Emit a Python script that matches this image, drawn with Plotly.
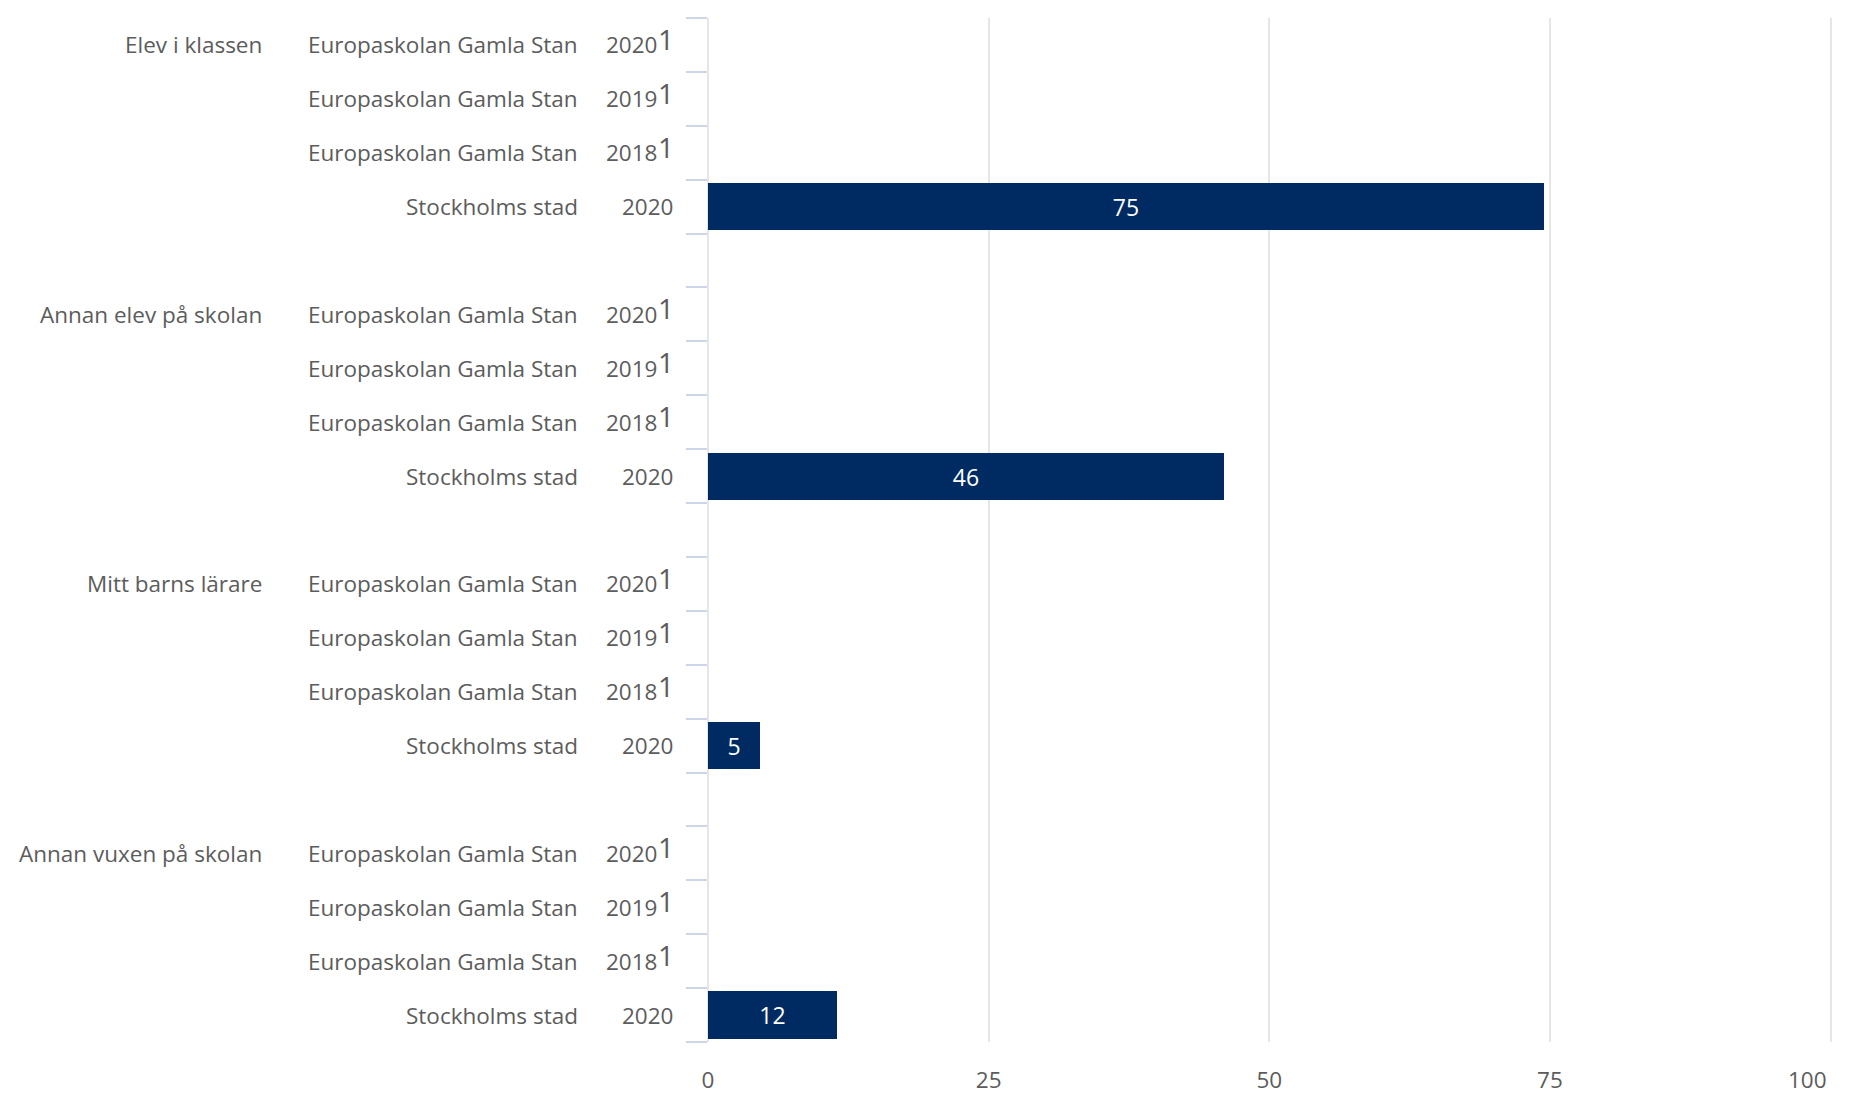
import plotly.graph_objects as go

groups = ["Elev i klassen", "Annan elev på skolan", "Mitt barns lärare", "Annan vuxen på skolan"]
units = ["Europaskolan Gamla Stan", "Europaskolan Gamla Stan", "Europaskolan Gamla Stan", "Stockholms stad"]
years = ["2020", "2019", "2018", "2020"]
footnote = ["1", "1", "1", ""]
# Europaskolan rows have no reported values (footnote 1); Stockholms stad values:
stockholm_values = [74.5, 46, 4.6, 11.5]
x_ticks = [0, 25, 50, 75, 100]

ROWS_PER_GROUP = len(units) + 1  # one blank slot between groups
n_slots = len(groups) * ROWS_PER_GROUP - 1

FONT = "Open Sans"
FS = 22.5
TXT = "#5c5c5c"
BAR = "#002B62"

bar_y = [g * ROWS_PER_GROUP + (len(units) - 1) for g in range(len(groups))]

fig = go.Figure()
fig.add_trace(go.Bar(
    x=stockholm_values, y=bar_y, orientation="h",
    marker=dict(color=BAR, line=dict(width=0)),
    width=0.875,
    texttemplate="%{x:.0f}", textposition="inside", insidetextanchor="middle",
    textfont=dict(color="white", size=23, family=FONT),
    hoverinfo="skip", showlegend=False,
))

annotations = []
for g, grp in enumerate(groups):
    for r in range(len(units)):
        y = g * ROWS_PER_GROUP + r
        if r == 0:
            annotations.append(dict(x=0, y=y, xref="paper", yref="y", text=grp,
                                    xanchor="right", yanchor="middle", xshift=-444,
                                    showarrow=False, font=dict(size=FS, color=TXT, family=FONT)))
        annotations.append(dict(x=0, y=y, xref="paper", yref="y", text=units[r],
                                xanchor="right", yanchor="middle", xshift=-128,
                                showarrow=False, font=dict(size=FS, color=TXT, family=FONT)))
        has_note = footnote[r] != ""
        annotations.append(dict(x=0, y=y, xref="paper", yref="y", text=years[r],
                                xanchor="right", yanchor="middle",
                                xshift=-49 if has_note else -33,
                                showarrow=False, font=dict(size=FS, color=TXT, family=FONT)))
        if has_note:
            annotations.append(dict(x=0, y=y, xref="paper", yref="y", text=footnote[r],
                                    xanchor="right", yanchor="middle", xshift=-32, yshift=6,
                                    showarrow=False, font=dict(size=28, color=TXT, family=FONT)))

boundaries = [i - 0.5 for i in range(n_slots + 1)]
tick_text = [str(t) for t in x_ticks]
tick_text[-1] = tick_text[-1] + "\u00a0" * 8  # keep last label inside the page

fig.update_layout(
    width=1875, height=1097,
    margin=dict(l=700, r=14, t=10, b=45),
    plot_bgcolor="white", paper_bgcolor="white",
    font=dict(family=FONT, size=FS, color=TXT),
    bargap=0,
    annotations=annotations,
    xaxis=dict(range=[0, 100.3], tickvals=x_ticks, ticktext=tick_text, showgrid=True,
               gridcolor="#e6e6e6", gridwidth=2, zeroline=True, zerolinecolor="#e6e6e6",
               zerolinewidth=2, showline=False, ticks="", ticklabelstandoff=22,
               ticklabeloverflow="allow",
               tickfont=dict(size=FS, color=TXT, family=FONT), fixedrange=True),
    yaxis=dict(range=[n_slots - 0.5, -0.5], tickvals=boundaries,
               ticktext=[""] * len(boundaries), ticks="outside", ticklen=21,
               tickwidth=2, tickcolor="#ccd6eb", showgrid=False, zeroline=False,
               showline=False, fixedrange=True),
)

fig.write_html("out.html")
